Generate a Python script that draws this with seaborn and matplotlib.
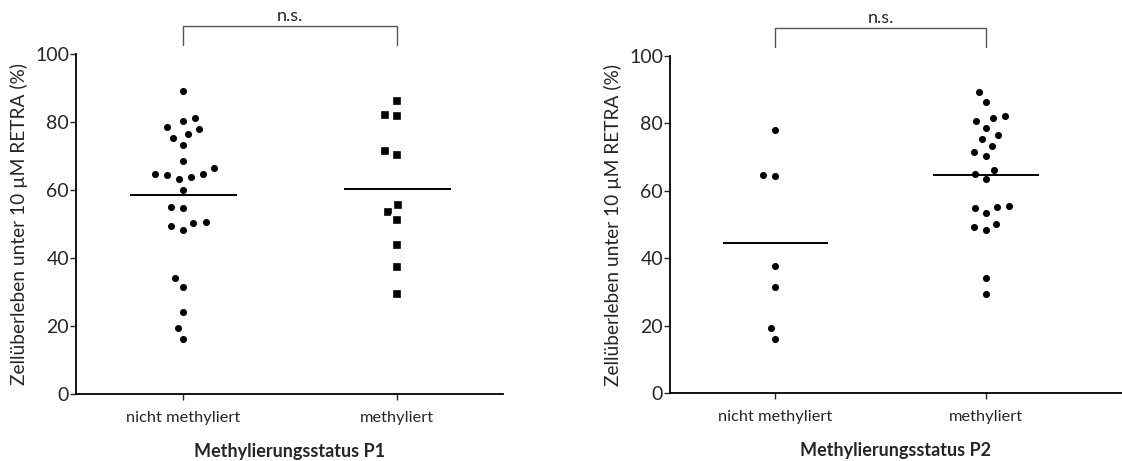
import matplotlib
matplotlib.use("Agg")
import matplotlib.pyplot as plt
import seaborn as sns
import pandas as pd
import numpy as np

# Werte
categories = ["nicht methyliert", "methyliert"]

p1_nicht = [89.1, 81.3, 80.4, 78.4, 77.9, 76.5, 75.3, 73.3, 68.6, 66.4,
            64.8, 63.9, 63.3, 64.3, 64.8, 60.0, 55.1, 54.8, 50.2, 48.3,
            49.3, 50.5, 34.1, 31.4, 24.2, 19.3, 16.1]
p1_meth = [86.2, 81.7, 82.1, 71.5, 70.3, 55.5, 53.4, 51.1, 43.8, 37.5, 29.4]

p2_nicht = [78.1, 64.3, 64.6, 37.6, 31.5, 19.2, 15.9]
p2_meth = [89.2, 86.3, 82.2, 81.7, 80.6, 78.7, 76.5, 75.4, 73.4, 71.6,
           70.4, 66.3, 64.9, 63.5, 55.5, 54.8, 55.2, 53.5, 50.2, 49.2,
           48.3, 34.2, 29.4]

yticks = [0, 20, 40, 60, 80, 100]
ylabel = "Zellüberleben unter 10 µM RETRA (%)"
xlabels = ["Methylierungsstatus P1", "Methylierungsstatus P2"]
sig_text = "n.s."

sns.set_theme(style="ticks")
plt.rcParams["font.family"] = ["Lato", "DejaVu Sans"]

fig = plt.figure(figsize=(11.22, 4.61), dpi=100)
ax1 = fig.add_axes([76 / 1122, 67 / 461, 427 / 1122, 340 / 461])
ax2 = fig.add_axes([670 / 1122, 68 / 461, 452 / 1122, 337 / 461])


def panel(ax, nicht, meth, markers, xlabel, xmax):
    for cat, vals, mk in zip(categories, [nicht, meth], markers):
        df = pd.DataFrame({"Status": cat, "Wert": vals})
        sns.swarmplot(data=df, x="Status", y="Wert", order=categories, ax=ax,
                      color="black", marker=mk, size=6.8,
                      edgecolor="white", linewidth=1.7)
    for i, vals in enumerate([nicht, meth]):
        ax.hlines(np.mean(vals), i - 0.25, i + 0.25, color="black",
                  lw=1.4, zorder=5)

    ax.set_xlim(-0.5, xmax)
    ax.set_ylim(0, 100)
    ax.set_yticks(yticks)
    ax.set_xticks([0, 1])
    ax.set_xticklabels(categories, fontsize=11.8)
    ax.tick_params(axis="y", labelsize=14, length=4, width=1, pad=1)
    ax.tick_params(axis="x", length=4, width=1, pad=8)
    ax.set_ylabel(ylabel, fontsize=13.8, labelpad=5)
    ax.set_xlabel(xlabel, fontsize=13, fontweight="bold", labelpad=13)
    for s in ["top", "right"]:
        ax.spines[s].set_visible(False)
    for s in ["left", "bottom"]:
        ax.spines[s].set_linewidth(1.3)
        ax.spines[s].set_color("black")

    # Signifikanzklammer
    ax.plot([0, 0, 1, 1], [102.6, 108.2, 108.2, 102.6], color="#555555",
            lw=1, clip_on=False)
    ax.text(0.5, 108.8, sig_text, ha="center", va="bottom", fontsize=13,
            clip_on=False)


panel(ax1, p1_nicht, p1_meth, ["o", "s"], xlabels[0], 1.495)
panel(ax2, p2_nicht, p2_meth, ["o", "o"], xlabels[1], 1.645)

fig.savefig("out.png", dpi=100)
